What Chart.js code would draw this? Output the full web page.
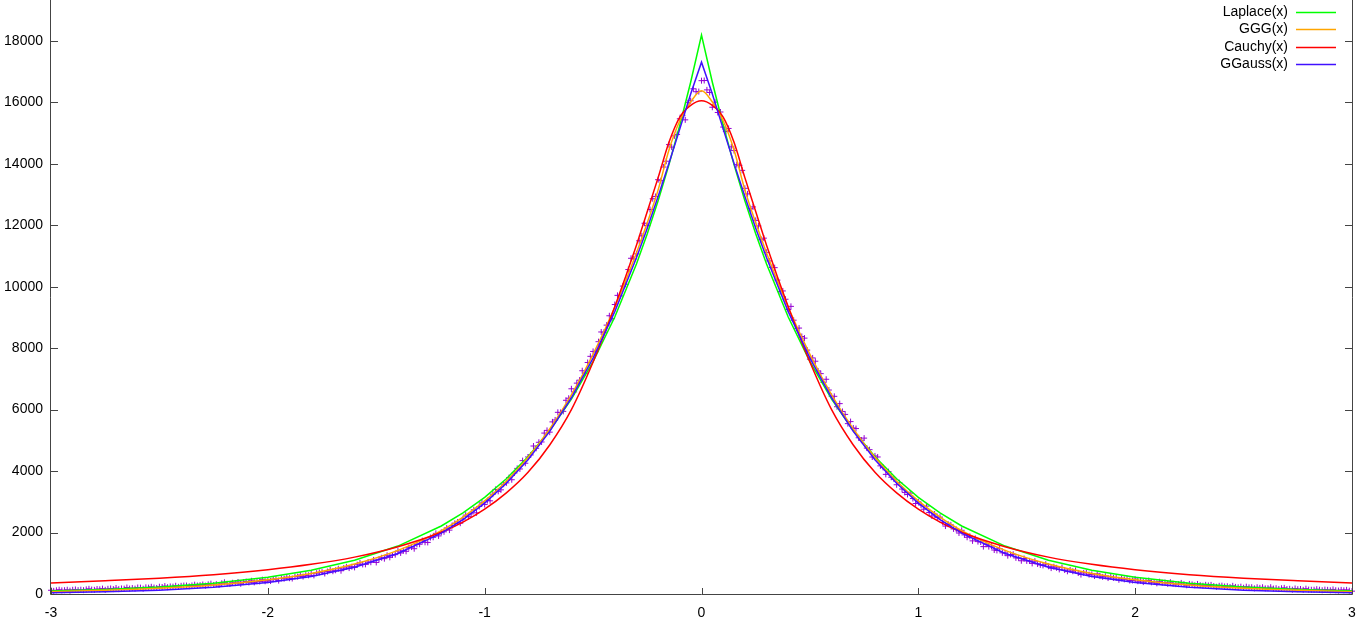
<!DOCTYPE html>
<html>
<head>
<meta charset="utf-8">
<script src="https://cdn.jsdelivr.net/npm/chart.js@4.4.1/dist/chart.umd.min.js"></script>
<style>
  html, body { margin: 0; padding: 0; background: #fff; }
  canvas { display: block; }
</style>
</head>
<body>
<canvas id="chart" width="1362" height="624"></canvas>
<script>
// histogram bins: first centre and width
const binStart = -3;
const binStep = 0.0125;
const counts = [
  122, 103, 121, 138, 117, 124, 138, 110, 137, 147,
  126, 139, 125, 151, 168, 144, 136, 162, 153, 175,
  136, 169, 180, 159, 194, 158, 180, 174, 211, 175,
  193, 174, 212, 207, 172, 217, 207, 234, 209, 197,
  237, 228, 258, 221, 245, 239, 268, 233, 266, 275,
  276, 250, 278, 303, 276, 287, 309, 272, 314, 337,
  294, 319, 292, 348, 381, 333, 325, 366, 354, 390,
  334, 386, 404, 376, 430, 379, 414, 408, 465, 414,
  445, 422, 482, 480, 436, 507, 498, 545, 514, 504,
  569, 564, 615, 568, 614, 608, 668, 606, 678, 702,
  712, 668, 731, 787, 742, 772, 823, 758, 843, 885,
  843, 889, 866, 953, 1010, 963, 965, 1039, 1034, 1108,
  1027, 1130, 1179, 1150, 1260, 1193, 1269, 1280, 1397, 1336,
  1408, 1389, 1508, 1527, 1474, 1615, 1619, 1736, 1683, 1678,
  1838, 1845, 1973, 1890, 2007, 2024, 2150, 2079, 2228, 2299,
  2343, 2304, 2441, 2567, 2516, 2608, 2741, 2641, 2847, 2965,
  2911, 3040, 3032, 3248, 3402, 3340, 3389, 3574, 3616, 3788,
  3718, 3940, 4088, 4069, 4340, 4255, 4459, 4526, 4816, 4741,
  4937, 4947, 5237, 5324, 5267, 5601, 5663, 5912, 5908, 5943,
  6304, 6370, 6678, 6576, 6862, 6959, 7266, 7184, 7533, 7734,
  7893, 7884, 8211, 8527, 8518, 8750, 9054, 8960, 9420, 9718,
  9700, 10020, 10078, 10558, 10925, 10903, 11068, 11493, 11655, 12065,
  11990, 12512, 12862, 12936, 13482, 13450, 13894, 14084, 14624, 14542,
  14908, 14956, 15465, 15580, 15430, 15990, 16050, 16440, 16345, 16350,
  16705,
  16710, 16405, 16320, 15840, 16005, 15670, 15685, 15195, 15050, 15150,
  14550, 14430, 13972, 13950, 13786, 13202, 13020, 12540, 12596, 12158,
  11978, 11543, 11580, 11118, 10840, 10625, 10620, 10215, 9845, 9862,
  9592, 9258, 9360, 8910, 8645, 8654, 8380, 8327, 7937, 7641,
  7682, 7575, 7258, 7171, 6885, 6988, 6638, 6436, 6433, 6094,
  6195, 5940, 5844, 5544, 5610, 5403, 5384, 5084, 5006, 5073,
  4749, 4697, 4458, 4493, 4459, 4170, 4120, 3893, 3981, 3800,
  3740, 3555, 3622, 3416, 3306, 3239, 3282, 3106, 2945, 2999,
  2897, 2759, 2859, 2653, 2540, 2604, 2490, 2502, 2332, 2211,
  2272, 2250, 2118, 2101, 1985, 2073, 1924, 1846, 1878, 1729,
  1810, 1705, 1692, 1542, 1619, 1542, 1556, 1432, 1418, 1476,
  1340, 1338, 1247, 1286, 1294, 1176, 1175, 1082, 1155, 1077,
  1079, 996, 1068, 978, 947, 931, 970, 902, 843, 886,
  852, 800, 864, 780, 739, 784, 741, 767, 685, 633,
  686, 691, 630, 639, 585, 654, 583, 557, 579, 519,
  564, 525, 525, 463, 510, 476, 498, 438, 440, 485,
  417, 430, 388, 424, 439, 381, 391, 347, 400, 365,
  373, 332, 383, 335, 321, 321, 360, 320, 284, 327,
  312, 282, 326, 287, 270, 298, 279, 297, 258, 235,
  266, 272, 245, 252, 227, 266, 231, 218, 238, 203,
  238, 215, 221, 183, 219, 200, 219, 182, 186, 221,
  177, 187, 161, 187, 199, 160, 169, 141, 179, 156,
  163, 137, 173, 143, 138, 139, 157, 139, 122, 142,
  135, 121, 148, 122, 112, 133, 121, 135, 109, 93
];

// x positions where the fitted curves were read
const fitX = [-3, -2.75, -2.5, -2.25, -2, -1.8, -1.6, -1.4, -1.2, -1.1, -1, -0.9, -0.8, -0.7, -0.6, -0.5,
  -0.4, -0.3, -0.25, -0.2, -0.15, -0.1, -0.05, 0, 0.05, 0.1, 0.15, 0.2, 0.25, 0.3, 0.4,
  0.5, 0.6, 0.7, 0.8, 0.9, 1, 1.1, 1.2, 1.4, 1.6, 1.8, 2, 2.25, 2.5, 2.75, 3];

const laplace = [94, 146, 226, 351, 544, 773, 1098, 1560, 2214, 2640, 3145, 3749, 4467, 5323, 6345, 7563,
  9012, 10741, 11726, 12800, 13973, 15255, 16653, 18190, 16653, 15255, 13973, 12800, 11726, 10741, 9012,
  7563, 6345, 5323, 4467, 3749, 3145, 2640, 2214, 1560, 1098, 773, 544, 351, 226, 146, 94];

const ggg = [75, 118, 185, 295, 465, 670, 975, 1420, 2060, 2500, 3030, 3670, 4440, 5370, 6480, 7800,
  9330, 11100, 12080, 13150, 14450, 15400, 16010, 16373, 16010, 15400, 14450, 13150, 12080, 11100, 9330,
  7800, 6480, 5370, 4440, 3670, 3030, 2500, 2060, 1420, 975, 670, 465, 295, 185, 118, 75];

const cauchy = [358, 430, 515, 630, 790, 965, 1200, 1540, 2010, 2340, 2760, 3290, 3960, 4850, 6000, 7550,
  9350, 11350, 12450, 13550, 14700, 15520, 15900, 16048, 15900, 15520, 14700, 13550, 12450, 11350, 9350,
  7550, 6000, 4850, 3960, 3290, 2760, 2340, 2010, 1540, 1200, 965, 790, 630, 515, 430, 358];

const ggauss = [41, 72, 125, 217, 372, 571, 870, 1318, 1983, 2424, 2958, 3601, 4372, 5292, 6386, 7677,
  9190, 10939, 11906, 12935, 14014, 15136, 16271, 17306, 16271, 15136, 14014, 12935, 11906, 10939, 9190,
  7677, 6386, 5292, 4372, 3601, 2958, 2424, 1983, 1318, 870, 571, 372, 217, 125, 72, 41];

const xTicks = [-3, -2, -1, 0, 1, 2, 3];
const yTicks = [0, 2000, 4000, 6000, 8000, 10000, 12000, 14000, 16000, 18000];
const yTop = 19330; // the picture is cut just below the top of the plot

const FONT = { family: '"Liberation Sans", Arial, sans-serif', size: 14 };

function pts(ys) {
  return ys.map((v, i) => ({ x: fitX[i], y: v }));
}

function curve(label, ys, color, order, smooth) {
  return {
    label: label,
    data: pts(ys),
    borderColor: color,
    backgroundColor: color,
    borderWidth: 1.5,
    pointRadius: 0,
    showLine: true,
    fill: false,
    tension: 0,
    cubicInterpolationMode: smooth ? 'monotone' : 'default',
    order: order,
    key: color,
  };
}

// gnuplot style frame: axes, right border, inward ticks, and the key
const frame = {
  id: 'frame',
  afterDatasetsDraw(chart) {
    const { ctx, chartArea: a, scales } = chart;
    const x = scales.x, y = scales.y;
    ctx.save();
    ctx.strokeStyle = '#444';
    ctx.lineWidth = 1;
    ctx.beginPath();
    ctx.moveTo(a.left - 0.5, a.top);
    ctx.lineTo(a.left - 0.5, a.bottom + 0.5);
    ctx.lineTo(a.right + 0.5, a.bottom + 0.5);
    ctx.lineTo(a.right + 0.5, a.top);
    for (const v of yTicks) {
      const py = Math.round(y.getPixelForValue(v)) + 0.5;
      ctx.moveTo(a.left, py); ctx.lineTo(a.left + 7, py);
      ctx.moveTo(a.right - 7, py); ctx.lineTo(a.right, py);
    }
    for (const v of xTicks) {
      const px = Math.round(x.getPixelForValue(v)) + 0.5;
      ctx.moveTo(px, a.bottom); ctx.lineTo(px, a.bottom - 6);
    }
    ctx.stroke();
    ctx.restore();
  },
  afterDraw(chart) {
    const ctx = chart.ctx;
    const sets = chart.data.datasets.filter(d => d.key);
    ctx.save();
    ctx.font = FONT.size + 'px ' + FONT.family;
    ctx.textAlign = 'right';
    ctx.textBaseline = 'middle';
    sets.forEach((d, i) => {
      const yy = Math.round(12 + i * 17.4);
      ctx.fillStyle = '#000';
      ctx.fillText(d.label, 1288, yy);
      ctx.strokeStyle = d.key;
      ctx.lineWidth = 1.5;
      ctx.beginPath();
      ctx.moveTo(1296, yy + 0.5);
      ctx.lineTo(1336, yy + 0.5);
      ctx.stroke();
    });
    ctx.restore();
  }
};

new Chart(document.getElementById('chart'), {
  type: 'scatter',
  data: {
    datasets: [
      {
        label: 'data',
        data: counts.map((c, i) => ({ x: binStart + i * binStep, y: c })),
        pointStyle: 'cross',
        pointRadius: 3,
        borderWidth: 1,
        borderColor: '#9400d3',
        backgroundColor: '#9400d3',
        showLine: false,
        order: 5,
        clip: false,
      },
      curve('Laplace(x)', laplace, '#00ff00', 4, false),
      curve('GGG(x)', ggg, '#ffa500', 3, true),
      curve('Cauchy(x)', cauchy, '#ff0000', 2, true),
      curve('GGauss(x)', ggauss, '#4010ff', 1, false),
    ]
  },
  options: {
    responsive: false,
    animation: false,
    layout: { autoPadding: false, padding: { left: 0, right: 10, top: 0, bottom: 0 } },
    plugins: {
      legend: { display: false },
      tooltip: { enabled: false },
    },
    scales: {
      x: {
        type: 'linear',
        min: -3,
        max: 3,
        afterFit: s => { s.height = 30; s.paddingLeft = 0; s.paddingRight = 0; },
        afterBuildTicks: s => { s.ticks = xTicks.map(v => ({ value: v })); },
        grid: { display: false, drawTicks: false },
        border: { display: false },
        ticks: {
          color: '#000',
          font: FONT,
          padding: 11,
          maxRotation: 0,
          autoSkip: false,
          callback: v => String(v),
        },
      },
      y: {
        type: 'linear',
        min: 0,
        max: yTop,
        afterFit: s => { s.width = 51; s.paddingTop = 0; s.paddingBottom = 0; },
        afterBuildTicks: s => { s.ticks = yTicks.map(v => ({ value: v })); },
        grid: { display: false, drawTicks: false },
        border: { display: false },
        ticks: {
          color: '#000',
          font: FONT,
          padding: 8,
          includeBounds: false,
          callback: v => String(v),
        },
      }
    }
  },
  plugins: [frame]
});
</script>
</body>
</html>
